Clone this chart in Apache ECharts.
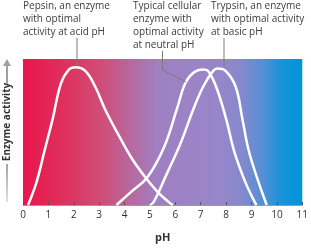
<!DOCTYPE html>
<html><head><meta charset="utf-8">
<script src="https://cdn.jsdelivr.net/npm/echarts@6/dist/echarts.min.js"></script>
<style>html,body{margin:0;padding:0;background:#fff}#c{width:311px;height:248px}</style>
</head><body><div id="c"></div>
<script>
// pH tick labels
const phTicks = [0,1,2,3,4,5,6,7,8,9,10,11];
// Curves: [pH, relative activity]
const pepsin = [[0.2,0],[0.53,15.5],[0.85,37.3],[1.17,59],[1.49,83],[1.81,92.8],[2.07,94.3],[2.46,91.7],[2.85,80.8],[3.23,65.6],[3.75,48.4],[4.25,32.9],[4.78,19.8],[5.29,9.2],[5.79,1.3],[5.9,0]];
const cellular = [[3.68,0],[4.26,9],[4.9,19],[5.55,39.4],[6.06,65.6],[6.38,83],[6.71,90.6],[7.09,92.8],[7.29,91.7],[7.61,80.8],[8.0,59],[8.31,37.3],[8.76,15.5],[9.15,1.3],[9.2,0]];
const trypsin = [[5.0,0],[5.16,2.4],[5.68,22],[6.19,41.6],[6.71,65.6],[7.09,80.8],[7.48,91.7],[7.67,93.5],[7.99,91.7],[8.38,80.8],[8.64,59],[8.89,37.3],[9.28,15.5],[9.6,0]];
const notes = [
  "Pepsin, an enzyme\nwith optimal\nactivity at acid pH",
  "Typical cellular\nenzyme with\noptimal activity\nat neutral pH",
  "Trypsin, an enzyme\nwith optimal activity\nat basic pH"
];
const xName = "pH";
const yName = "Enzyme activity";

const chart = echarts.init(document.getElementById('c'), null, {renderer:'canvas'});
const font = '"Open Sans", "Noto Sans", sans-serif';
const lineSeries = (d) => ({type:'line', data:d, smooth:0.4, showSymbol:false, symbol:'none',
  lineStyle:{color:'#ffffff', width:2.5}, silent:true, z:5});
const bg = new echarts.graphic.LinearGradient(0,0,1,0,[
  {offset:0, color:'#e8164b'},
  {offset:0.14, color:'#e02f5c'},
  {offset:0.28, color:'#d04d78'},
  {offset:0.40, color:'#b46ca4'},
  {offset:0.48, color:'#9f80c2'},
  {offset:0.70, color:'#9786c9'},
  {offset:0.78, color:'#8689cd'},
  {offset:0.86, color:'#5490d4'},
  {offset:0.92, color:'#1a93d9'},
  {offset:1, color:'#0094da'}
]);
const textStyle = {fill:'#3c3c3c', fontSize:10, fontFamily:font, lineHeight:12.8};
chart.setOption({
  animation:false,
  grid:{left:23, right:3, top:59, bottom:36, show:true, borderWidth:0, backgroundColor:bg},
  xAxis:{type:'value', min:0, max:11, interval:1,
    name:xName, nameLocation:'middle', nameGap:27,
    nameTextStyle:{color:'#333', fontSize:11, fontFamily:font, fontWeight:'bold'},
    axisLine:{show:true, lineStyle:{color:'#9a9a9a', width:1}},
    axisTick:{show:true, inside:true, length:3, lineStyle:{color:'#555'}},
    axisLabel:{color:'#333', fontSize:10, fontFamily:font, margin:5,
      formatter:(v)=> phTicks.includes(v) ? String(v) : ''},
    splitLine:{show:false}},
  yAxis:{type:'value', min:0, max:100, show:false},
  series:[lineSeries(pepsin), lineSeries(cellular), lineSeries(trypsin)],
  graphic:[
    {type:'text', left:23, top:0, style:Object.assign({text:notes[0]}, textStyle)},
    {type:'text', left:133, top:0, style:Object.assign({text:notes[1]}, textStyle)},
    {type:'text', left:211, top:0, style:Object.assign({text:notes[2]}, textStyle)},
    {type:'polyline', shape:{points:[[77,38],[77,65]]}, style:{stroke:'#7a7a7a', lineWidth:1, fill:null}, z:10},
    {type:'polyline', shape:{points:[[162.5,51],[162.5,70],[186,82]]}, style:{stroke:'#7a7a7a', lineWidth:1, fill:null}, z:10},
    {type:'polyline', shape:{points:[[224,38],[224,66]]}, style:{stroke:'#7a7a7a', lineWidth:1, fill:null}, z:10},
    {type:'text', x:7, y:122, rotation:Math.PI/2, style:{text:yName, fill:'#333', fontSize:10, fontWeight:'bold', fontFamily:font, align:'center', verticalAlign:'middle'}},
    {type:'line', shape:{x1:7, y1:84, x2:7, y2:64}, style:{stroke:'#a0a0a0', lineWidth:2}},
    {type:'polygon', shape:{points:[[3,66],[11,66],[7,59]]}, style:{fill:'#a0a0a0'}},
    {type:'line', shape:{x1:7, y1:164, x2:7, y2:202}, style:{stroke:new echarts.graphic.LinearGradient(0,0,0,1,[{offset:0,color:'#a0a0a0'},{offset:1,color:'#e4e4e4'}]), lineWidth:2}}
  ]
});
</script></body></html>
